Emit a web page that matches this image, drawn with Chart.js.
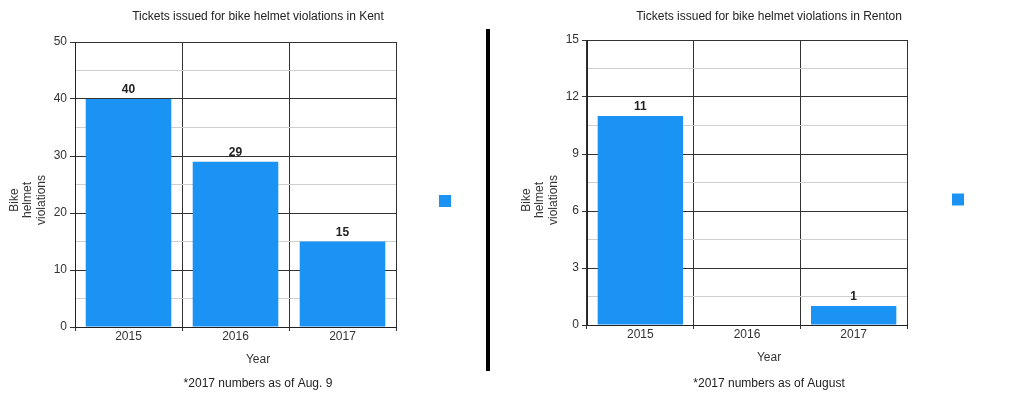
<!DOCTYPE html>
<html><head><meta charset="utf-8">
<script src="https://cdn.jsdelivr.net/npm/chart.js@4.4.0/dist/chart.umd.min.js"></script>
<style>
html,body{margin:0;padding:0;background:#fff;width:1024px;height:395px;overflow:hidden}
#c1{position:absolute;left:0;top:0}
#c2{position:absolute;left:490px;top:0}
#divider{position:absolute;left:486px;top:29px;width:4px;height:342px;background:#000}
</style></head><body>
<canvas id="c1" width="490" height="395"></canvas>
<canvas id="c2" width="534" height="395"></canvas>
<div id="divider"></div>
<script>
// ---- data ----
const years = ['2015', '2016', '2017'];
const kentValues = [40, 29, 15];
const rentonValues = [11, 0, 1];
const kentTitle = 'Tickets issued for bike helmet violations in Kent';
const rentonTitle = 'Tickets issued for bike helmet violations in Renton';
const kentNote = '*2017 numbers as of Aug. 9';
const rentonNote = '*2017 numbers as of August';
const xAxisTitle = 'Year';
const yAxisTitle = ['Bike', 'helmet', 'violations'];
const kentAxisMax = 50, kentAxisStep = 5;      // labels every 10
const rentonAxisMax = 15, rentonAxisStep = 1.5; // labels every 3

const FONT = '"Liberation Sans", Arial, Helvetica, sans-serif';
Chart.defaults.font.family = FONT;
Chart.defaults.font.size = 12;
const BAR = '#1b93f5';

const annotate = {
  id: 'annotate',
  afterDatasetsDraw(chart) {
    const ctx = chart.ctx;
    const meta = chart.getDatasetMeta(0);
    const data = chart.data.datasets[0].data;
    ctx.save();
    ctx.font = 'bold 12px ' + FONT;
    ctx.fillStyle = '#222';
    ctx.textAlign = 'center';
    ctx.textBaseline = 'alphabetic';
    meta.data.forEach((bar, i) => {
      if (!data[i]) return;
      ctx.fillText(String(data[i]), bar.x, bar.y - 6);
    });
    ctx.restore();
  },
  afterDraw(chart) {
    const ctx = chart.ctx;
    const area = chart.chartArea;
    const tb = chart.titleBlock;
    const cx = (tb.left + tb.right) / 2;
    ctx.save();
    ctx.font = '12px ' + FONT;
    ctx.fillStyle = '#333';
    ctx.textAlign = 'center';
    ctx.textBaseline = 'alphabetic';
    ctx.fillText(xAxisTitle, cx, area.bottom + 36);
    const offs = [57.5, 44, 30.5];
    yAxisTitle.forEach((line, i) => {
      ctx.save();
      ctx.translate(area.left - offs[i], chart.height / 2 + 2.5);
      ctx.rotate(-Math.PI / 2);
      ctx.fillText(line, 0, 0);
      ctx.restore();
    });
    ctx.restore();
  }
};

function makeChart(id, cfg) {
  return new Chart(document.getElementById(id), {
    type: 'bar',
    data: {
      labels: years,
      datasets: [{
        label: '',
        data: cfg.values,
        backgroundColor: BAR,
        borderWidth: 0,
        barPercentage: 1,
        categoryPercentage: 0.8
      }]
    },
    plugins: [annotate],
    options: {
      responsive: false,
      animation: false,
      devicePixelRatio: 1,
      layout: { padding: cfg.pad },
      plugins: {
        title: { display: true, text: cfg.title, color: '#222',
          font: { size: 12, weight: 'normal', lineHeight: 1.2 }, padding: cfg.titlePad },
        subtitle: { display: true, position: 'bottom', text: cfg.note, color: '#222',
          font: { size: 12, weight: 'normal', lineHeight: 1.2 }, padding: cfg.notePad },
        legend: { display: true, position: 'right',
          labels: { boxWidth: 12, boxHeight: 12, padding: cfg.legendPad, font: { size: cfg.legendFont } } },
        tooltip: { enabled: false }
      },
      scales: {
        x: {
          offset: true,
          grid: { offset: true, color: '#333', tickColor: '#333', tickLength: 4, lineWidth: 1 },
          border: { color: '#222', width: 1 },
          ticks: { color: '#333', padding: 0, font: { size: 12, lineHeight: 1 } },
          afterFit(s) { s.height = 16; }
        },
        y: {
          min: 0, max: cfg.max,
          ticks: { stepSize: cfg.step, color: '#333', padding: 3, font: { size: 12 },
            callback: (v, i) => (i % 2 === 0 ? v : '') },
          grid: {
            color: c => (c.index % 2 === 0 ? '#333' : '#cfcfcf'),
            tickColor: c => (c.index % 2 === 0 ? '#333' : 'rgba(0,0,0,0)'),
            tickLength: 5, lineWidth: 1
          },
          border: { color: '#222', width: 1 },
          afterFit(s) { s.width = cfg.yWidth; }
        }
      }
    }
  });
}

makeChart('c1', {
  values: kentValues, title: kentTitle, note: kentNote,
  max: kentAxisMax, step: kentAxisStep,
  pad: { top: 7, left: 51, right: 25, bottom: 0 }, yWidth: 24,
  titlePad: { top: 2.8, bottom: 17.8 }, notePad: { top: 33.8, bottom: 3.8 },
  legendPad: 43, legendFont: 8
});
makeChart('c2', {
  values: rentonValues, title: rentonTitle, note: rentonNote,
  max: rentonAxisMax, step: rentonAxisStep,
  pad: { top: 4, left: 73, right: 49, bottom: 0 }, yWidth: 24,
  titlePad: { top: 5, bottom: 16.6 }, notePad: { top: 35.8, bottom: 3.8 },
  legendPad: 45, legendFont: 2
});
</script>
</body></html>
